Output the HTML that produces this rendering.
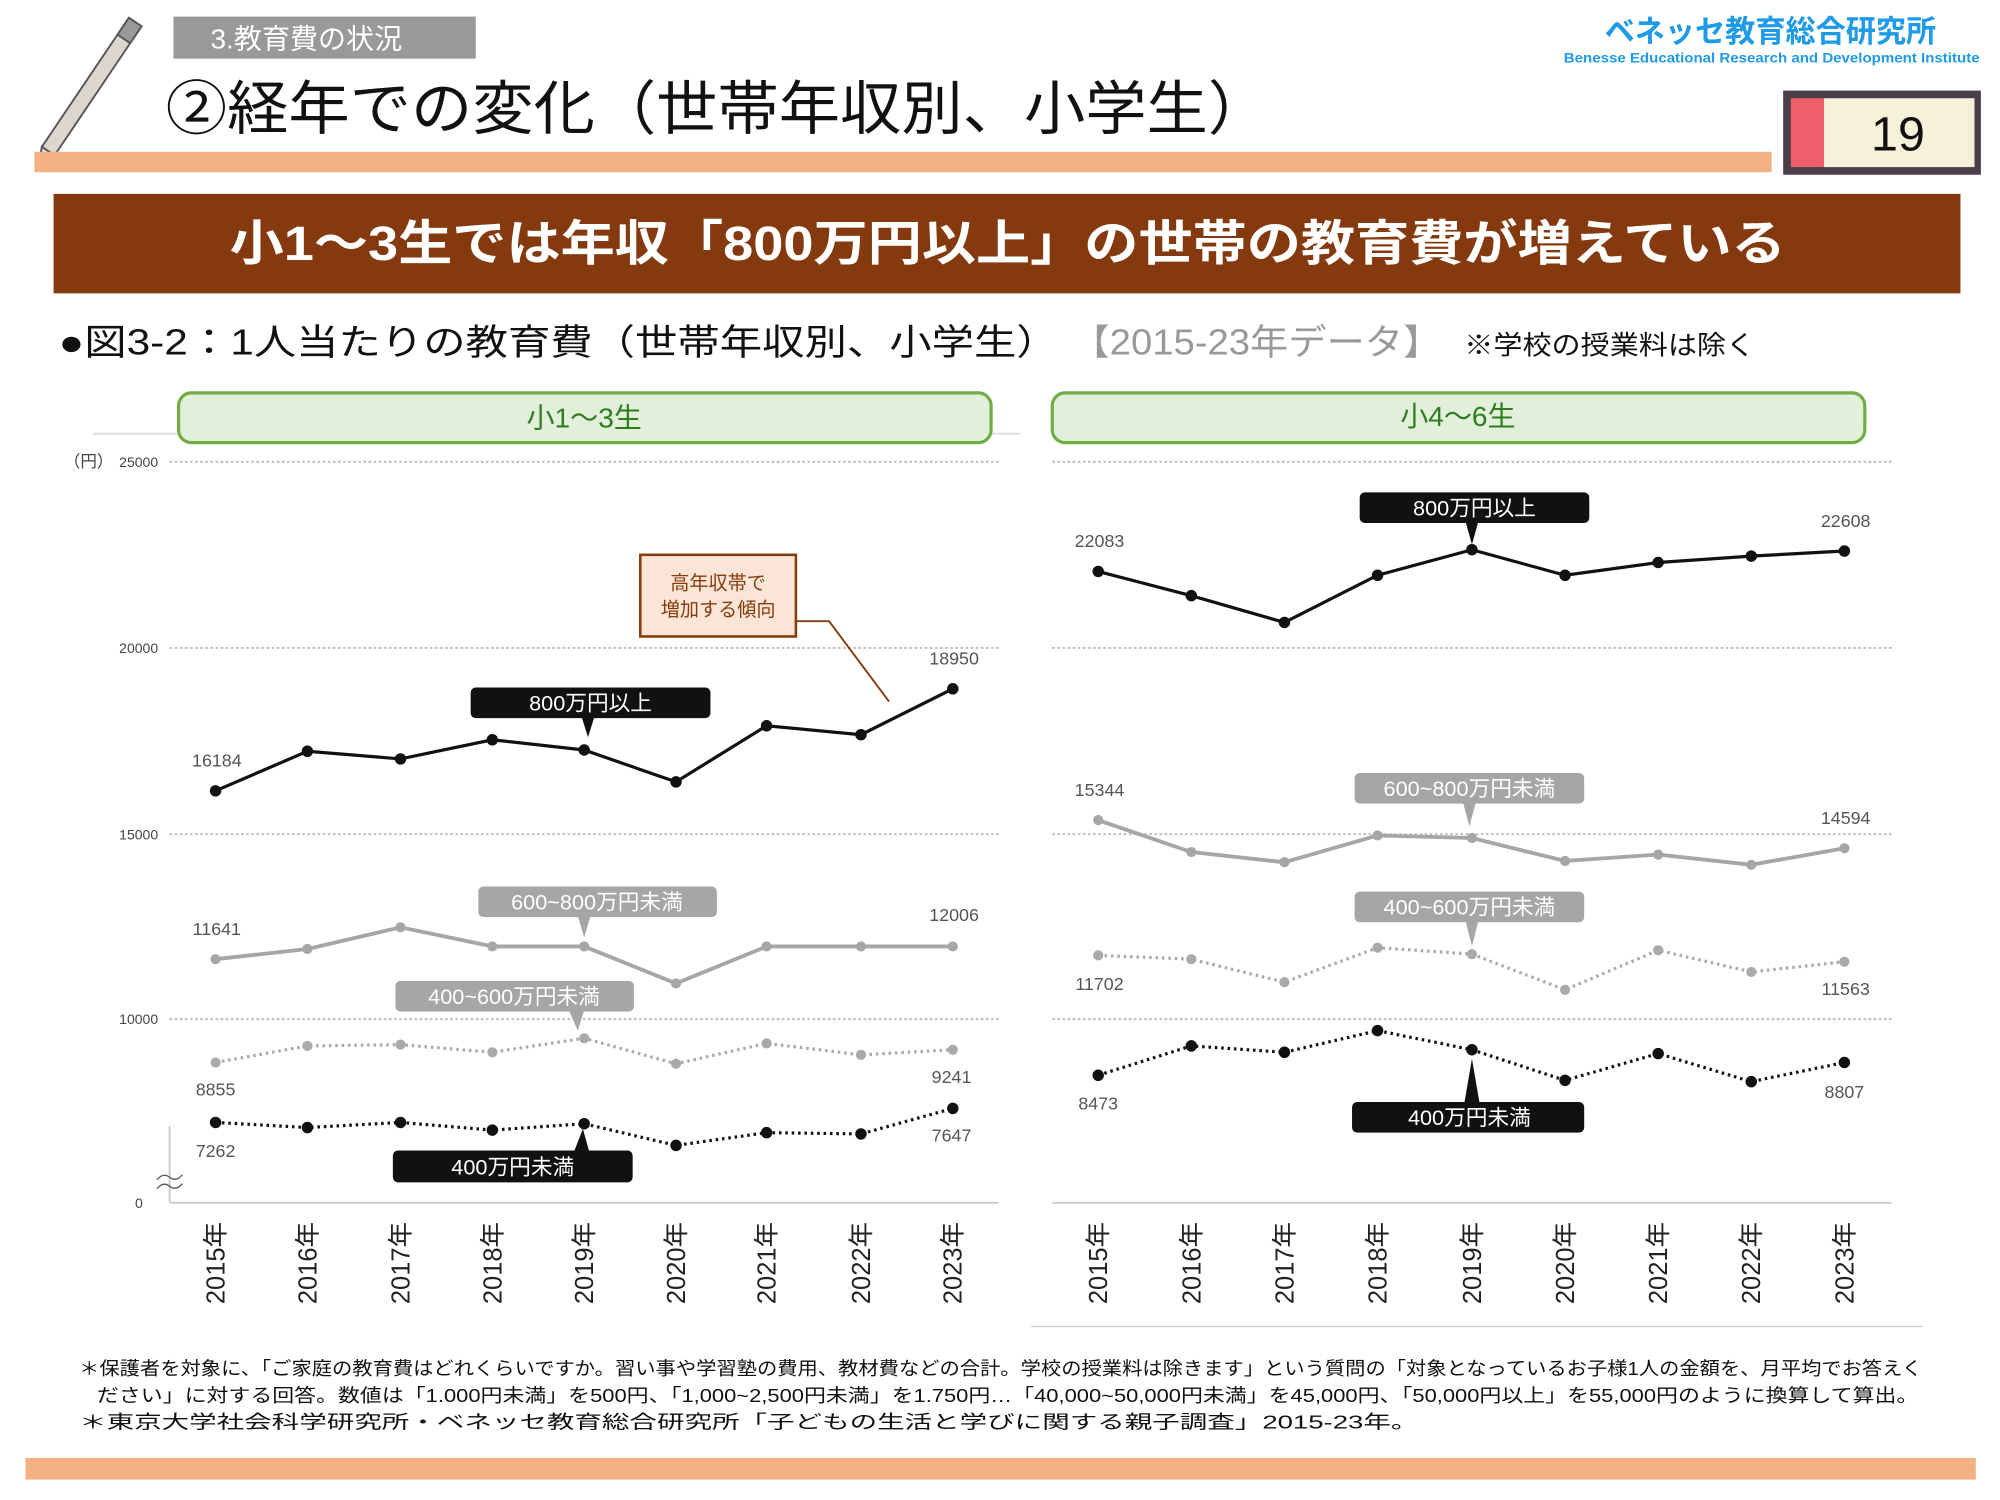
<!DOCTYPE html>
<html><head><meta charset="utf-8"><style>
html,body{margin:0;padding:0;background:#fff;width:2000px;height:1500px;overflow:hidden}
svg{display:block}
text{font-family:"Liberation Sans","Noto Sans CJK JP",sans-serif}
</style></head><body>
<svg width="2000" height="1500" viewBox="0 0 1568 1176" xmlns="http://www.w3.org/2000/svg">
<!-- pencil -->
<g transform="translate(30,130) rotate(-56)">
<polygon points="0,0 14,-6 14,6" fill="#e8e2d6" stroke="#555" stroke-width="1.5"/>
<rect x="14" y="-6" width="120" height="12" fill="#dcd6cc" stroke="#555" stroke-width="1.5"/>
<rect x="120" y="-6" width="16" height="12" fill="#999" stroke="#555" stroke-width="1.5"/>
</g>
<rect x="136" y="13" width="237" height="33" fill="#999"/>
<text x="165" y="38" font-size="22" fill="#fff">3.教育費の状況</text>
<text x="130" y="101" font-size="46" fill="#111" textLength="865" lengthAdjust="spacingAndGlyphs">②経年での変化（世帯年収別、小学生）</text>
<rect x="27" y="119" width="1362" height="16" fill="#f2b083"/>
<text x="1388" y="33" font-size="24" font-weight="bold" fill="#1e9ae6" text-anchor="middle" textLength="260" lengthAdjust="spacingAndGlyphs">ベネッセ教育総合研究所</text>
<text x="1389" y="49" font-size="10.5" font-weight="bold" fill="#1e9ae6" text-anchor="middle" textLength="326" lengthAdjust="spacingAndGlyphs">Benesse  Educational Research and Development Institute</text>
<rect x="1398" y="71" width="155" height="66" fill="#4a3f48"/>
<rect x="1404" y="77" width="26" height="54" fill="#ee5e6b"/>
<rect x="1430" y="77" width="118" height="54" fill="#f7f1d9"/>
<text x="1488" y="118" font-size="38" fill="#111" text-anchor="middle">19</text>
<rect x="42" y="152" width="1495" height="78" fill="#843a0e"/>
<text x="180" y="204" font-size="38" font-weight="bold" fill="#fff" textLength="1220" lengthAdjust="spacingAndGlyphs">小1～3生では年収「800万円以上」の世帯の教育費が増えている</text>
<text x="46" y="278" font-size="28" fill="#111" textLength="784" lengthAdjust="spacingAndGlyphs">●図3-2：1人当たりの教育費（世帯年収別、小学生）</text>
<text x="840" y="278" font-size="28" fill="#999" textLength="290" lengthAdjust="spacingAndGlyphs">【2015-23年データ】</text>
<text x="1148" y="278" font-size="21" fill="#111" textLength="228" lengthAdjust="spacingAndGlyphs">※学校の授業料は除く</text>
<!-- panel headers -->
<line x1="73" y1="340" x2="800" y2="340" stroke="#ddd" stroke-width="1.5"/>
<rect x="140" y="308" width="637" height="39" rx="10" fill="#e2efda" stroke="#70ad47" stroke-width="2.5"/>
<text x="458" y="335" font-size="22" fill="#2e7d1e" text-anchor="middle">小1～3生</text>
<rect x="825" y="308" width="637" height="39" rx="10" fill="#e2efda" stroke="#70ad47" stroke-width="2.5"/>
<text x="1143" y="334" font-size="22" fill="#2e7d1e" text-anchor="middle">小4～6生</text>
<!-- grid -->
<g stroke="#bbb" stroke-width="1.5" stroke-dasharray="2,2">
<line x1="133" y1="362" x2="783" y2="362"/><line x1="133" y1="508" x2="783" y2="508"/>
<line x1="133" y1="654" x2="783" y2="654"/><line x1="133" y1="799" x2="783" y2="799"/>
<line x1="825" y1="362" x2="1483" y2="362"/><line x1="825" y1="508" x2="1483" y2="508"/>
<line x1="825" y1="654" x2="1483" y2="654"/><line x1="825" y1="799" x2="1483" y2="799"/>
</g>
<g font-size="11" fill="#444" text-anchor="end">
<text x="124" y="366">25000</text><text x="124" y="512">20000</text><text x="124" y="658">15000</text><text x="124" y="803">10000</text><text x="112" y="947">0</text>
</g>
<text x="50" y="366" font-size="13" fill="#444">（円）</text>
<line x1="133" y1="883" x2="133" y2="943" stroke="#ccc" stroke-width="1.5"/>
<line x1="133" y1="943" x2="783" y2="943" stroke="#ccc" stroke-width="1.5"/>
<path d="M123,925 q5,-6 10,-2 t10,-2 M123,932 q5,-6 10,-2 t10,-2" stroke="#555" fill="none" stroke-width="1"/>
<line x1="825" y1="943" x2="1483" y2="943" stroke="#ccc" stroke-width="1.5"/>
<line x1="808" y1="1040" x2="1507" y2="1040" stroke="#ccc" stroke-width="1"/>
<!-- left series -->
<polyline points="169,752 241,744 314,727 386,742 458,742 530,771 601,742 675,742 747,742" fill="none" stroke="#a6a6a6" stroke-width="3"/>
<g fill="#a6a6a6"><circle cx="169" cy="752" r="4"/><circle cx="241" cy="744" r="4"/><circle cx="314" cy="727" r="4"/><circle cx="386" cy="742" r="4"/><circle cx="458" cy="742" r="4"/><circle cx="530" cy="771" r="4"/><circle cx="601" cy="742" r="4"/><circle cx="675" cy="742" r="4"/><circle cx="747" cy="742" r="4"/></g>
<polyline points="169,833 241,820 314,819 386,825 458,814 530,834 601,818 675,827 747,823" fill="none" stroke="#aaa" stroke-width="2.5" stroke-dasharray="2,3"/>
<g fill="#aaa"><circle cx="169" cy="833" r="4"/><circle cx="241" cy="820" r="4"/><circle cx="314" cy="819" r="4"/><circle cx="386" cy="825" r="4"/><circle cx="458" cy="814" r="4"/><circle cx="530" cy="834" r="4"/><circle cx="601" cy="818" r="4"/><circle cx="675" cy="827" r="4"/><circle cx="747" cy="823" r="4"/></g>
<polyline points="169,880 241,884 314,880 386,886 458,881 530,898 601,888 675,889 747,869" fill="none" stroke="#111" stroke-width="2.5" stroke-dasharray="2,3"/>
<g fill="#111"><circle cx="169" cy="880" r="4.5"/><circle cx="241" cy="884" r="4.5"/><circle cx="314" cy="880" r="4.5"/><circle cx="386" cy="886" r="4.5"/><circle cx="458" cy="881" r="4.5"/><circle cx="530" cy="898" r="4.5"/><circle cx="601" cy="888" r="4.5"/><circle cx="675" cy="889" r="4.5"/><circle cx="747" cy="869" r="4.5"/></g>
<polyline points="169,620 241,589 314,595 386,580 458,588 530,613 601,569 675,576 747,540" fill="none" stroke="#111" stroke-width="2.5"/>
<g fill="#111"><circle cx="169" cy="620" r="4.5"/><circle cx="241" cy="589" r="4.5"/><circle cx="314" cy="595" r="4.5"/><circle cx="386" cy="580" r="4.5"/><circle cx="458" cy="588" r="4.5"/><circle cx="530" cy="613" r="4.5"/><circle cx="601" cy="569" r="4.5"/><circle cx="675" cy="576" r="4.5"/><circle cx="747" cy="540" r="4.5"/></g>
<!-- right series -->
<polyline points="861,643 934,668 1007,676 1080,655 1154,657 1227,675 1300,670 1373,678 1446,665" fill="none" stroke="#a6a6a6" stroke-width="3"/>
<g fill="#a6a6a6"><circle cx="861" cy="643" r="4"/><circle cx="934" cy="668" r="4"/><circle cx="1007" cy="676" r="4"/><circle cx="1080" cy="655" r="4"/><circle cx="1154" cy="657" r="4"/><circle cx="1227" cy="675" r="4"/><circle cx="1300" cy="670" r="4"/><circle cx="1373" cy="678" r="4"/><circle cx="1446" cy="665" r="4"/></g>
<polyline points="861,749 934,752 1007,770 1080,743 1154,748 1227,776 1300,745 1373,762 1446,754" fill="none" stroke="#aaa" stroke-width="2.5" stroke-dasharray="2,3"/>
<g fill="#aaa"><circle cx="861" cy="749" r="4"/><circle cx="934" cy="752" r="4"/><circle cx="1007" cy="770" r="4"/><circle cx="1080" cy="743" r="4"/><circle cx="1154" cy="748" r="4"/><circle cx="1227" cy="776" r="4"/><circle cx="1300" cy="745" r="4"/><circle cx="1373" cy="762" r="4"/><circle cx="1446" cy="754" r="4"/></g>
<polyline points="861,843 934,820 1007,825 1080,808 1154,823 1227,847 1300,826 1373,848 1446,833" fill="none" stroke="#111" stroke-width="2.5" stroke-dasharray="2,3"/>
<g fill="#111"><circle cx="861" cy="843" r="4.5"/><circle cx="934" cy="820" r="4.5"/><circle cx="1007" cy="825" r="4.5"/><circle cx="1080" cy="808" r="4.5"/><circle cx="1154" cy="823" r="4.5"/><circle cx="1227" cy="847" r="4.5"/><circle cx="1300" cy="826" r="4.5"/><circle cx="1373" cy="848" r="4.5"/><circle cx="1446" cy="833" r="4.5"/></g>
<polyline points="861,448 934,467 1007,488 1080,451 1154,431 1227,451 1300,441 1373,436 1446,432" fill="none" stroke="#111" stroke-width="2.5"/>
<g fill="#111"><circle cx="861" cy="448" r="4.5"/><circle cx="934" cy="467" r="4.5"/><circle cx="1007" cy="488" r="4.5"/><circle cx="1080" cy="451" r="4.5"/><circle cx="1154" cy="431" r="4.5"/><circle cx="1227" cy="451" r="4.5"/><circle cx="1300" cy="441" r="4.5"/><circle cx="1373" cy="436" r="4.5"/><circle cx="1446" cy="432" r="4.5"/></g>
<!-- value labels -->
<g font-size="14" fill="#555" text-anchor="middle">
<text x="170" y="601">16184</text><text x="748" y="521">18950</text>
<text x="170" y="733">11641</text><text x="748" y="722">12006</text>
<text x="169" y="859">8855</text><text x="746" y="849">9241</text>
<text x="169" y="907">7262</text><text x="746" y="895">7647</text>
<text x="862" y="429">22083</text><text x="1447" y="413">22608</text>
<text x="862" y="624">15344</text><text x="1447" y="646">14594</text>
<text x="862" y="776">11702</text><text x="1447" y="780">11563</text>
<text x="861" y="870">8473</text><text x="1446" y="861">8807</text>
</g>
<!-- callouts -->
<g font-size="17" fill="#fff" text-anchor="middle">
<rect x="369" y="539" width="188" height="24" rx="4" fill="#111"/><polygon points="456,562 466,562 461,578" fill="#111"/><text x="463" y="557">800万円以上</text>
<rect x="375" y="695" width="187" height="24" rx="4" fill="#a6a6a6"/><polygon points="453,718 463,718 458,735" fill="#a6a6a6"/><text x="468" y="713">600~800万円未満</text>
<rect x="310" y="769" width="187" height="24" rx="4" fill="#a6a6a6"/><polygon points="446,792 458,792 453,808" fill="#a6a6a6"/><text x="403" y="787">400~600万円未満</text>
<rect x="308" y="902" width="188" height="25" rx="4" fill="#111"/><polygon points="450,903 462,903 457,885" fill="#111"/><text x="402" y="921">400万円未満</text>
<rect x="1066" y="386" width="180" height="24" rx="4" fill="#111"/><polygon points="1149,409 1159,409 1154,427" fill="#111"/><text x="1156" y="404">800万円以上</text>
<rect x="1062" y="606" width="180" height="24" rx="4" fill="#a6a6a6"/><polygon points="1147,629 1157,629 1152,648" fill="#a6a6a6"/><text x="1152" y="624">600~800万円未満</text>
<rect x="1062" y="699" width="180" height="24" rx="4" fill="#a6a6a6"/><polygon points="1149,722 1159,722 1154,742" fill="#a6a6a6"/><text x="1152" y="717">400~600万円未満</text>
<rect x="1060" y="864" width="182" height="24" rx="4" fill="#111"/><polygon points="1148,865 1160,865 1154,830" fill="#111"/><text x="1152" y="882">400万円未満</text>
</g>
<!-- annotation -->
<rect x="502" y="435" width="122" height="64" fill="#fbe5d6" stroke="#843c0c" stroke-width="2"/>
<text x="563" y="462" font-size="15" fill="#843c0c" text-anchor="middle">高年収帯で</text>
<text x="563" y="483" font-size="15" fill="#843c0c" text-anchor="middle">増加する傾向</text>
<polyline points="624,487 650,487 697,550" fill="none" stroke="#843c0c" stroke-width="1.5"/>
<!-- year labels -->
<g font-size="20" fill="#222" text-anchor="end">
<text transform="translate(176,958) rotate(-90)">2015年</text><text transform="translate(248,958) rotate(-90)">2016年</text><text transform="translate(321,958) rotate(-90)">2017年</text><text transform="translate(393,958) rotate(-90)">2018年</text><text transform="translate(465,958) rotate(-90)">2019年</text><text transform="translate(537,958) rotate(-90)">2020年</text><text transform="translate(608,958) rotate(-90)">2021年</text><text transform="translate(682,958) rotate(-90)">2022年</text><text transform="translate(754,958) rotate(-90)">2023年</text>
<text transform="translate(868,958) rotate(-90)">2015年</text><text transform="translate(941,958) rotate(-90)">2016年</text><text transform="translate(1014,958) rotate(-90)">2017年</text><text transform="translate(1087,958) rotate(-90)">2018年</text><text transform="translate(1161,958) rotate(-90)">2019年</text><text transform="translate(1234,958) rotate(-90)">2020年</text><text transform="translate(1307,958) rotate(-90)">2021年</text><text transform="translate(1380,958) rotate(-90)">2022年</text><text transform="translate(1453,958) rotate(-90)">2023年</text>
</g>
<!-- footnotes -->
<g font-size="14.5" fill="#111">
<text x="62" y="1078" textLength="1445" lengthAdjust="spacingAndGlyphs">＊保護者を対象に、「ご家庭の教育費はどれくらいですか。習い事や学習塾の費用、教材費などの合計。学校の授業料は除きます」という質問の「対象となっているお子様1人の金額を、月平均でお答えく</text>
<text x="76" y="1099" textLength="1428" lengthAdjust="spacingAndGlyphs">ださい」に対する回答。数値は「1.000円未満」を500円、「1,000~2,500円未満」を1.750円…「40,000~50,000円未満」を45,000円、「50,000円以上」を55,000円のように換算して算出。</text>
<text x="62" y="1120" textLength="1050" lengthAdjust="spacingAndGlyphs">＊東京大学社会科学研究所・ベネッセ教育総合研究所「子どもの生活と学びに関する親子調査」2015-23年。</text>
</g>
<rect x="20" y="1143" width="1529" height="17" fill="#f2b083"/>
</svg>
</body></html>
